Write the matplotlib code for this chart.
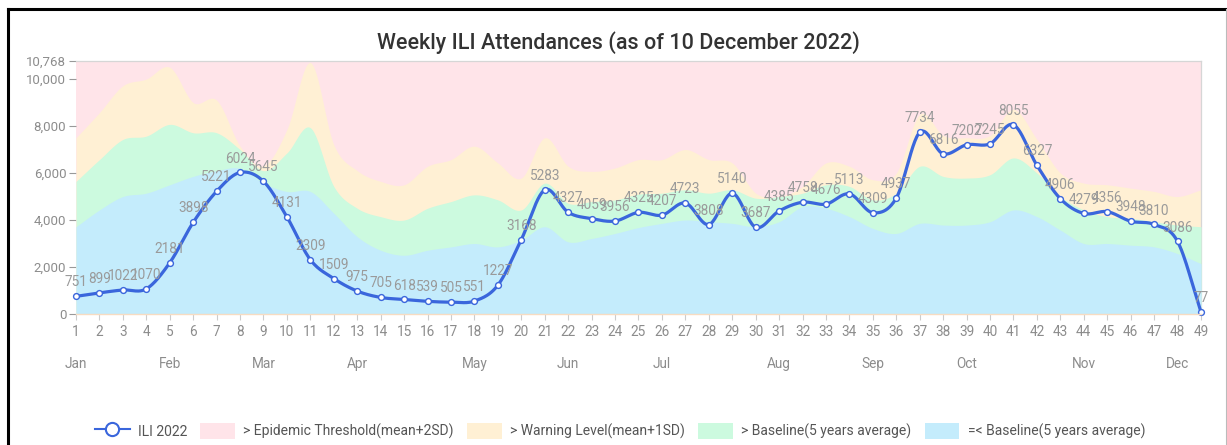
import numpy as np
import matplotlib
matplotlib.use("Agg")
import matplotlib.pyplot as plt
from matplotlib.lines import Line2D
from matplotlib.patches import Patch

plt.rcParams['font.family'] = ['Roboto', 'DejaVu Sans']

# ---------------- data ----------------
weeks = list(range(1, 50))
ili_2022 = [751, 899, 1022, 1070, 2181, 3898, 5221, 6024, 5645, 4131, 2309, 1509, 975,
            705, 618, 539, 505, 551, 1227, 3168, 5283, 4327, 4059, 3956, 4325, 4207,
            4723, 3808, 5140, 3687, 4385, 4758, 4676, 5113, 4309, 4937, 7734, 6816,
            7202, 7245, 8055, 6327, 4906, 4279, 4356, 3948, 3810, 3086, 77]
baseline = [3714, 4429, 5000, 5143, 5500, 5857, 6100, 6200, 5570, 5214, 5214, 4286, 3290,
            2714, 2500, 2714, 2857, 3000, 2857, 3143, 3714, 3071, 3214, 3429, 3680,
            3857, 4000, 3929, 3857, 3714, 3929, 4571, 4500, 4143, 3643, 3429, 3857,
            3786, 3786, 3929, 4429, 4143, 3571, 3000, 3000, 2929, 2857, 2571, 2143]
warning = [5643, 6571, 7429, 7571, 8071, 7714, 7714, 7000, 6100, 6857, 7929, 5429, 4500,
           4143, 4000, 4500, 4786, 5071, 4857, 4429, 5571, 4714, 4786, 4857, 5100,
           5143, 5286, 5143, 5286, 4929, 5000, 5143, 5500, 5429, 4857, 5143, 6286,
           5857, 5786, 5929, 6643, 6000, 5000, 4429, 4143, 4071, 3929, 3786, 3714]
epidemic = [7500, 8571, 9714, 10000, 10500, 9000, 9100, 7143, 6300, 7857, 10700, 7200, 6100,
            5643, 5500, 6286, 6571, 7143, 6429, 5786, 7500, 6286, 6071, 6214, 6571,
            6571, 7000, 6571, 6429, 5143, 5000, 5429, 6429, 6286, 5714, 6000, 8500,
            7600, 7500, 7600, 8714, 7429, 6000, 5571, 5500, 5357, 5214, 5000, 5286]
y_max = 10768
y_ticks = [0, 2000, 4000, 6000, 8000, 10000, 10768]
month_names = ['Jan', 'Feb', 'Mar', 'Apr', 'May', 'Jun', 'Jul', 'Aug', 'Sep', 'Oct', 'Nov', 'Dec']
month_weeks = [1, 5, 9, 13, 18, 22, 26, 31, 35, 39, 44, 48]
title = 'Weekly ILI Attendances (as of 10 December 2022)'
legend_labels = ['ILI 2022', '> Epidemic Threshold(mean+2SD)', '> Warning Level(mean+1SD)',
                 '> Baseline(5 years average)', '=< Baseline(5 years average)']

# colours
c_pink = '#ffe4e9'
c_yellow = '#fff0d4'
c_green = '#ccfadf'
c_blue = '#c4ecfc'
c_line = '#3a66dc'
c_label = '#9a9a9a'


def smooth(x, y, n=24):
    """Cardinal (Catmull-Rom) rendering of a series for drawing."""
    x = np.asarray(x, float)
    y = np.asarray(y, float)
    m = np.empty_like(y)
    m[1:-1] = (y[2:] - y[:-2]) / 2.0
    m[0] = y[1] - y[0]
    m[-1] = y[-1] - y[-2]
    xs, ys = [], []
    t = np.linspace(0, 1, n, endpoint=False)
    h00 = 2 * t**3 - 3 * t**2 + 1
    h10 = t**3 - 2 * t**2 + t
    h01 = -2 * t**3 + 3 * t**2
    h11 = t**3 - t**2
    for i in range(len(x) - 1):
        xs.append(x[i] + t * (x[i + 1] - x[i]))
        ys.append(h00 * y[i] + h10 * m[i] + h01 * y[i + 1] + h11 * m[i + 1])
    xs.append([x[-1]])
    ys.append([y[-1]])
    return np.concatenate(xs), np.concatenate(ys)


W, H = 1227, 445
fig = plt.figure(figsize=(W / 100, H / 100), dpi=100)
ax = fig.add_axes([76 / W, 1 - 314 / H, (1201 - 76) / W, (314 - 61) / H])

xb, yb = smooth(weeks, baseline)
xg, yg = smooth(weeks, warning)
xe, ye = smooth(weeks, epidemic)
ye = np.minimum(ye, y_max)

ax.fill_between([weeks[0], weeks[-1]], 0, y_max, color=c_pink, lw=0, zorder=1)
ax.fill_between(xe, 0, ye, color=c_yellow, lw=0, zorder=2)
ax.fill_between(xg, 0, yg, color=c_green, lw=0, zorder=3)
ax.fill_between(xb, 0, yb, color=c_blue, lw=0, zorder=4)

xl, yl = smooth(weeks, ili_2022)
ax.plot(xl, yl, color=c_line, lw=2.3, zorder=6, clip_on=False, solid_capstyle='round')
ax.plot(weeks, ili_2022, ls='none', marker='o', ms=4.2, mfc='white', mec=c_line,
        mew=1.0, zorder=7, clip_on=False)

for w, v in zip(weeks, ili_2022):
    ax.annotate(str(v), (w, v), xytext=(0, 5), textcoords='offset points',
                ha='center', va='bottom', color=c_label, fontsize=9.8, zorder=8,
                annotation_clip=False)

ax.set_xlim(weeks[0], weeks[-1])
ax.set_ylim(0, y_max)
ax.set_xticks(weeks)
ax.set_xticklabels([str(w) for w in weeks])
ax.set_yticks(y_ticks)
ax.set_yticklabels([f'{t:,}' for t in y_ticks])
ax.tick_params(axis='x', length=4, width=0.8, color='#cccccc', pad=4,
               labelsize=9.8, labelcolor='#8c8c8c')
ax.tick_params(axis='y', length=5, width=0.8, color='#999999', pad=2,
               labelsize=9.5, labelcolor='#8c8c8c')

for s in ['top', 'right']:
    ax.spines[s].set_color('#d6d6d6')
    ax.spines[s].set_linewidth(0.9)
ax.spines['left'].set_visible(False)
ax.spines['bottom'].set_color('#f7dcc2')
ax.spines['bottom'].set_linewidth(1.0)
ax.spines['bottom'].set_zorder(9)

for name, w in zip(month_names, month_weeks):
    ax.text(w, -50 / 253, name, transform=ax.get_xaxis_transform(), ha='center',
            va='center', color='#8c8c8c', fontsize=9.8)

fig.text(618 / W, 1 - 43 / H, title, ha='center', va='center', fontsize=15.5,
         color='#333333', fontweight='medium')

handles = [Line2D([0], [0], color=c_line, lw=1.5, marker='o', ms=9.5, mfc='white',
                  mec=c_line, mew=1.5),
           Patch(facecolor=c_pink, edgecolor='none'),
           Patch(facecolor=c_yellow, edgecolor='none'),
           Patch(facecolor=c_green, edgecolor='none'),
           Patch(facecolor=c_blue, edgecolor='none')]
fig.legend(handles, legend_labels, loc='center', bbox_to_anchor=(620 / W, 1 - 431 / H),
           ncol=5, frameon=False, fontsize=10, labelcolor='#555555', handlelength=2.5,
           handleheight=1.4, handletextpad=0.6, columnspacing=0.95)

# outer frame
fig.add_artist(Line2D([8 / W, 1], [1 - 9 / H, 1 - 9 / H], color='black', lw=2.2,
                      transform=fig.transFigure))
fig.add_artist(Line2D([8 / W, 8 / W], [0, 1 - 9 / H], color='black', lw=2.2,
                      transform=fig.transFigure))
fig.add_artist(Line2D([1226 / W, 1226 / W], [0, 1 - 9 / H], color='#bbbbbb', lw=0.8,
                      transform=fig.transFigure))

fig.savefig('out.png', dpi=100)
